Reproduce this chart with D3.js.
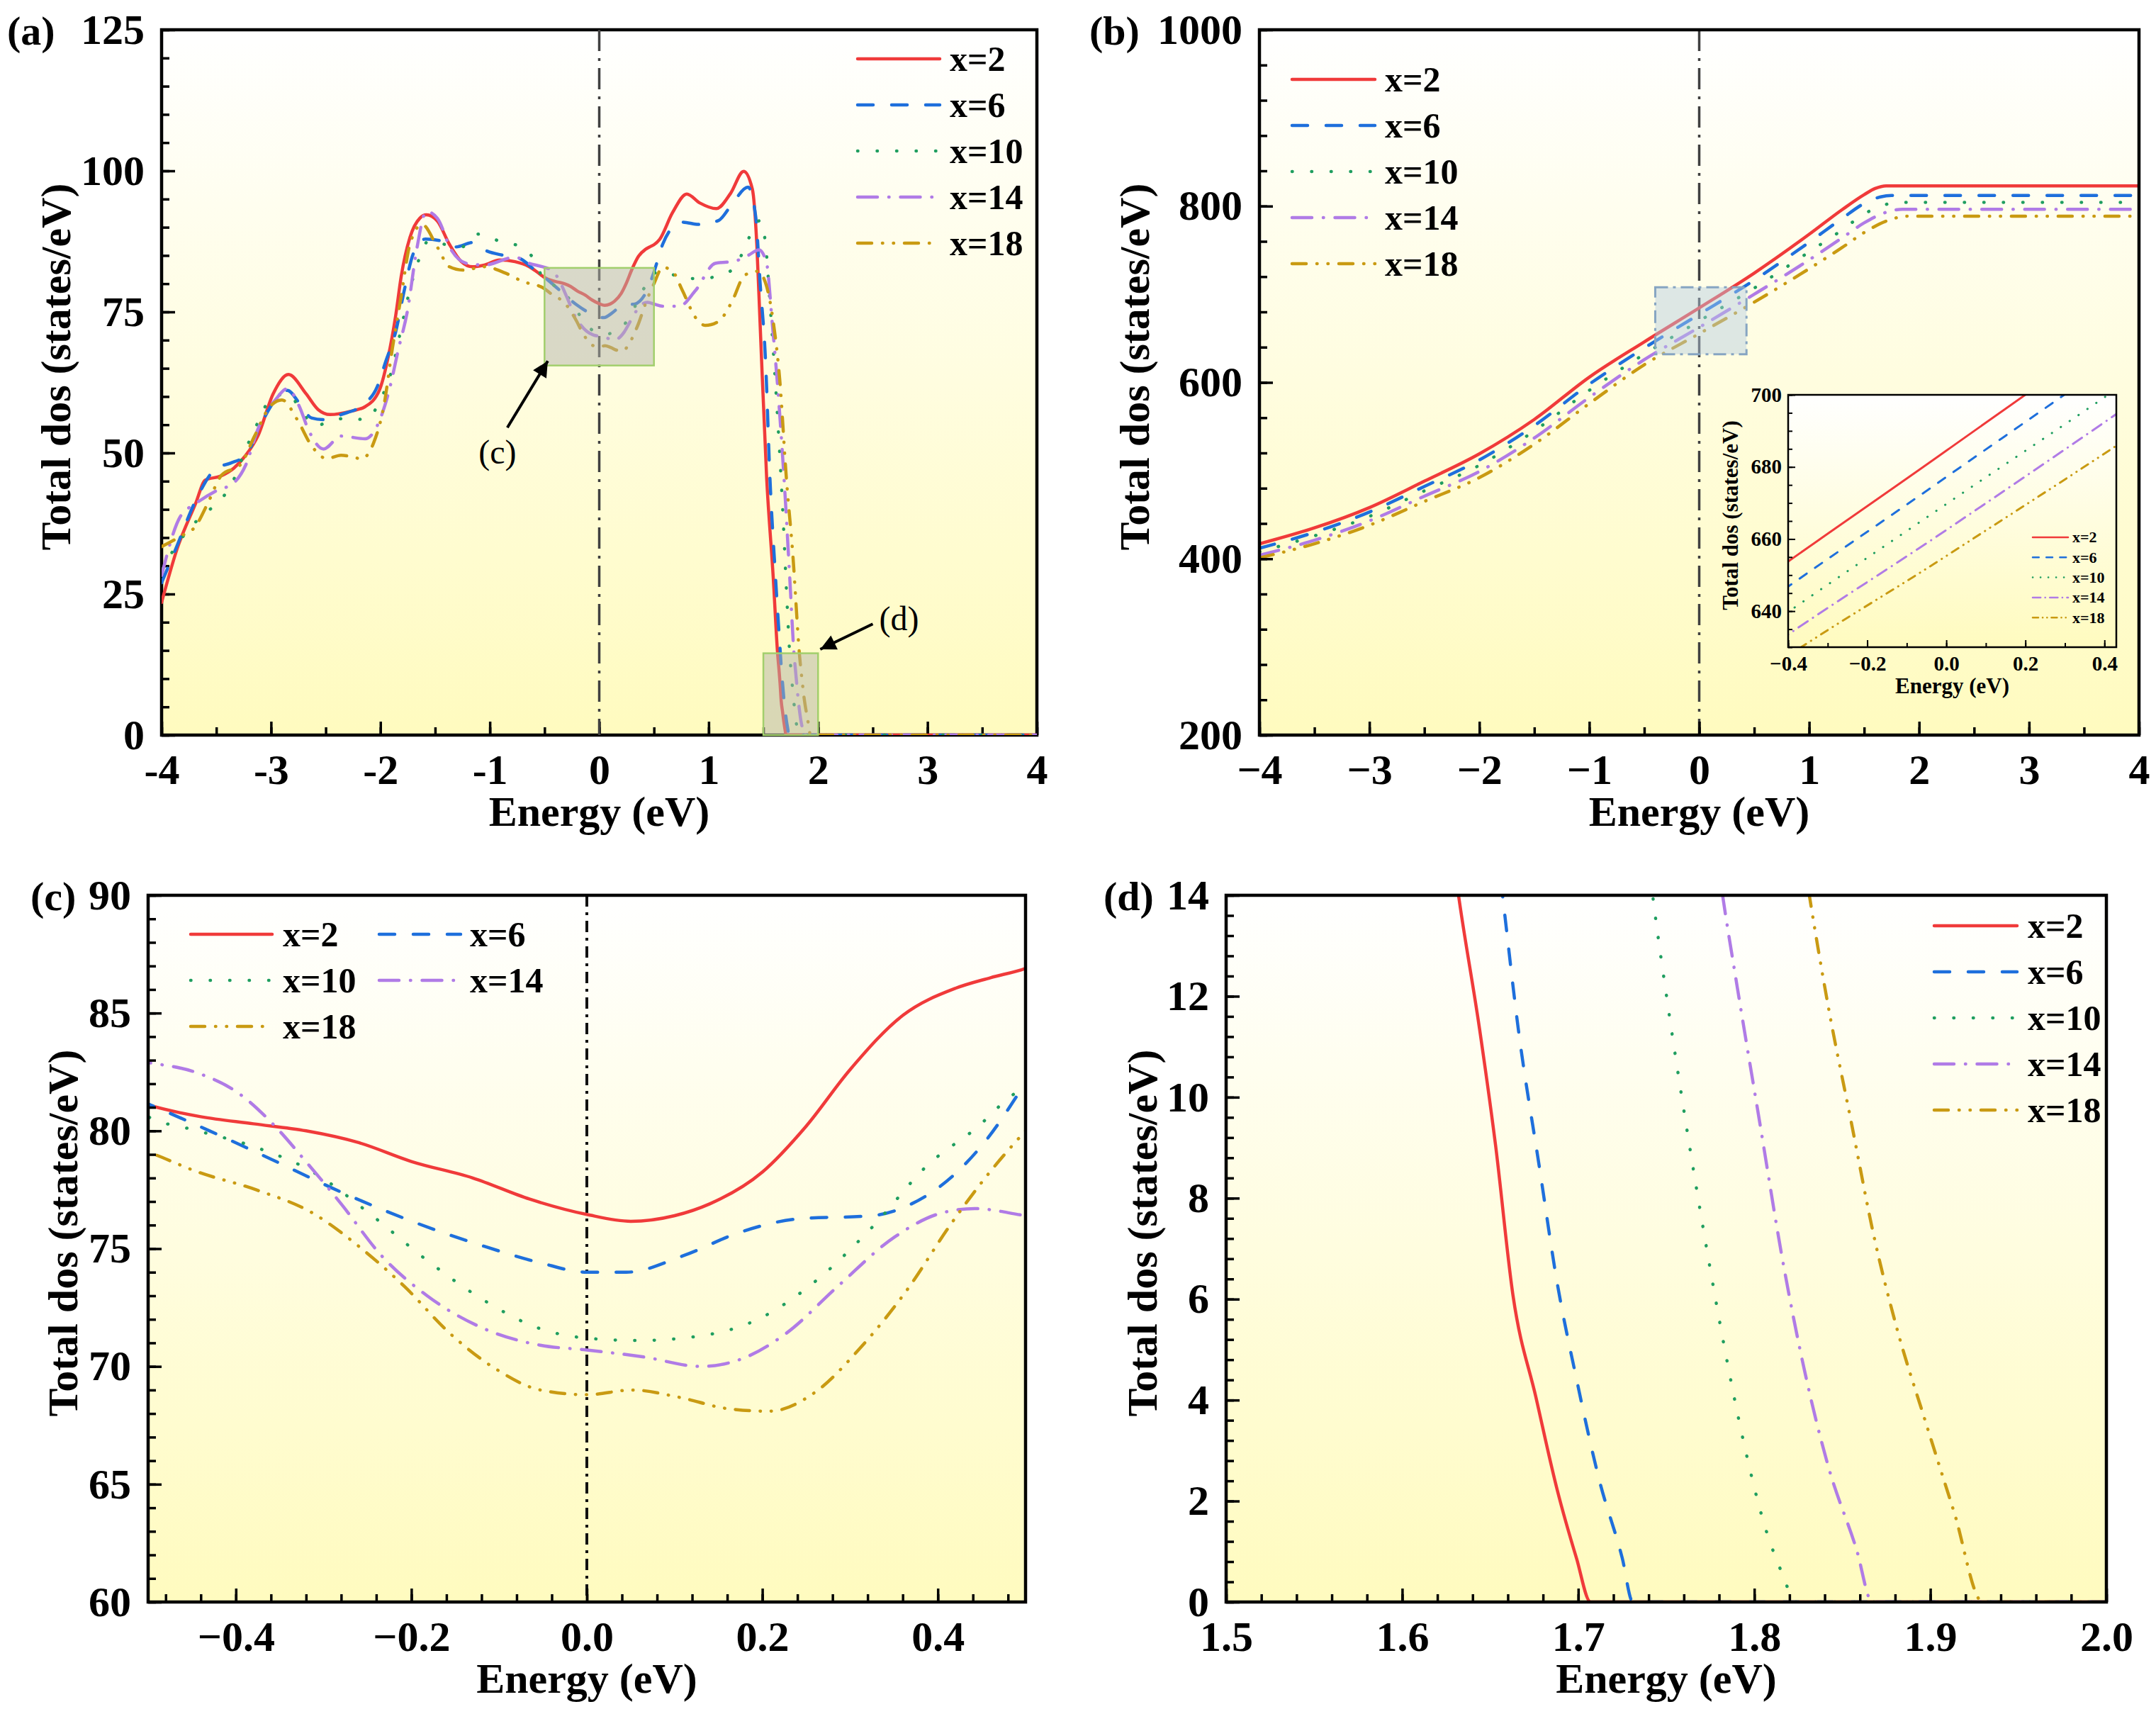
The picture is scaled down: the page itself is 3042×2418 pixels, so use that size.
<!DOCTYPE html>
<html>
<head>
<meta charset="UTF-8">
<script src="https://d3js.org/d3.v7.min.js"></script>
<title>Total dos</title>
<style>
  body{margin:0;background:#fff;}
  text{font-family:"Liberation Serif","Times New Roman",serif;}
</style>
</head>
<body>
<div id="container"></div>
<script>
// series names and styles
var seriesNames = ['x=2', 'x=6', 'x=10', 'x=14', 'x=18'];
var seriesColors = ['#f03a3a', '#1e6fdc', '#1f9e5f', '#b07be6', '#c99a12'];
var seriesDash = [null, '22,26', '0.5,27', '28,16,0.5,16', '20,15,0.5,15,0.5,15'];

// total dos (states/eV) vs energy (eV), panel (a); (c) and (d) are zooms of the same curves
var dosX2 = [[-4,23.5],[-3.86,32.9],[-3.69,41],[-3.6,45.2],[-3.46,45.9],[-3.34,47.3],[-3.23,49.6],[-3.12,53],[-2.98,60.5],[-2.84,63.9],[-2.68,60.5],[-2.57,57.7],[-2.46,56.8],[-2.27,57.4],[-2.14,58.2],[-2.01,61.1],[-1.93,66.9],[-1.86,74.4],[-1.81,81.3],[-1.73,88.2],[-1.64,91.6],[-1.58,92.2],[-1.48,91.1],[-1.37,87],[-1.26,83.9],[-1.16,83],[-1.05,83.3],[-0.91,84.2],[-0.77,83.9],[-0.64,83],[-0.57,82.1],
  [-0.5,81.1],[-0.44,80.6],[-0.38,80.3],[-0.32,80.0],[-0.26,79.5],[-0.2,78.7],[-0.13,78.0],[-0.065,77.1],[0,76.45],[0.05,76.16],[0.1,76.4],[0.14,76.9],[0.2,78.25],[0.25,80.2],[0.3,82.6],[0.36,84.9],[0.42,86.05],[0.46,86.5],[0.5,86.9],
  [0.55,87.8],[0.67,92.6],[0.8,95.9],[0.92,94.3],[1.07,93.3],[1.2,96],[1.32,99.9],[1.4,96.7],[1.44,87],[1.47,73],[1.53,45.6],[1.59,28],[1.632,14],
  [1.644,11.34],[1.653,9.06],[1.663,6.06],[1.676,4.05],[1.688,2.23],[1.699,0.87],[1.707,0],[4,0]];
var dosX6 = [[-4,27],[-3.86,33.5],[-3.69,41.5],[-3.5,47.3],[-3.37,48.2],[-3.23,49.6],[-3.1,54.8],[-2.96,59.4],[-2.85,61.1],[-2.74,58.8],[-2.63,56.2],[-2.52,55.9],[-2.36,56.8],[-2.14,58.8],[-2.03,61.7],[-1.95,66.3],[-1.86,71.5],[-1.78,79],[-1.7,85.3],[-1.59,87.9],[-1.45,87.6],[-1.32,86.5],[-1.15,87.3],[-1.05,86],[-0.87,85],[-0.72,84.4],[-0.6,82.6],
  [-0.5,81.14],[-0.43,80.0],[-0.36,78.8],[-0.28,77.4],[-0.195,76.1],[-0.117,75.1],[-0.053,74.4],[0,74.0],[0.045,74.0],[0.11,74.7],[0.175,75.7],[0.24,76.26],[0.325,76.4],[0.37,76.9],[0.416,78.05],[0.455,79.6],[0.5,82.05],
  [0.58,87],[0.68,90.2],[0.76,90.9],[0.91,90.5],[1.09,91.2],[1.21,94],[1.36,97.1],[1.43,91.9],[1.47,80.2],[1.52,66.3],[1.56,45.6],[1.61,28.3],[1.657,14],
  [1.666,11.34],[1.678,8.6],[1.688,6.33],[1.699,4.42],[1.712,2.41],[1.725,0.87],[1.731,0],[4,0]];
var dosX10 = [[-4,29.4],[-3.78,35.8],[-3.64,38.7],[-3.5,41],[-3.37,44.1],[-3.23,50.7],[-3.12,55.4],[-3.01,59.4],[-2.85,60.5],[-2.71,57.1],[-2.6,54.8],[-2.46,55.6],[-2.3,56.2],[-2.14,55.9],[-2,59.4],[-1.89,65.1],[-1.81,72.1],[-1.73,79],[-1.64,84.7],[-1.56,87.6],[-1.42,87],[-1.26,86.5],[-1.1,88.8],[-0.88,87.3],[-0.75,86.8],[-0.61,84.7],
  [-0.5,80.6],[-0.443,80.0],[-0.377,79.3],[-0.312,78.25],[-0.248,76.5],[-0.182,74.5],[-0.117,72.8],[-0.053,71.6],[0,71.2],[0.058,71.1],[0.13,71.3],[0.195,72.0],[0.26,73.6],[0.325,75.9],[0.39,78.6],[0.44,80.0],[0.5,81.8],
  [0.58,82.2],[0.73,81.2],[0.88,80.9],[1.06,81.2],[1.24,82.9],[1.36,87.8],[1.47,91.2],[1.52,87],[1.56,76.7],[1.62,59.4],[1.68,38.7],[1.715,24],[1.743,13.8],
  [1.751,11.8],[1.761,9.52],[1.774,6.79],[1.7835,4.96],[1.793,3.32],[1.806,1.5],[1.8176,0.41],[1.8225,0],[4,0]];
var dosX14 = [[-4,28.3],[-3.83,38.7],[-3.69,41],[-3.5,43.3],[-3.34,44.7],[-3.23,47.9],[-3.12,54.2],[-2.96,59.4],[-2.85,61.4],[-2.74,58.2],[-2.66,54.2],[-2.52,50.7],[-2.36,53],[-2.14,52.5],[-2.03,54.8],[-1.92,61.1],[-1.84,68],[-1.75,75.5],[-1.67,85.9],[-1.58,92.8],[-1.48,91.6],[-1.35,85.9],[-1.21,83.6],[-1.05,83.3],[-0.77,84.7],[-0.64,83.6],[-0.56,83.2],
  [-0.5,82.9],[-0.443,82.45],[-0.397,81.6],[-0.358,80.3],[-0.318,78.6],[-0.28,76.9],[-0.234,74.7],[-0.182,73.0],[-0.117,71.6],[-0.053,70.9],[0,70.7],[0.065,70.4],[0.13,70.0],[0.175,70.3],[0.227,71.4],[0.286,73.4],[0.351,75.5],[0.403,76.5],[0.442,76.7],[0.5,76.4],
  [0.58,76],[0.73,76],[0.88,78.8],[1.06,83.6],[1.24,84],[1.36,85],[1.46,86],[1.53,83.6],[1.58,73.3],[1.64,59.4],[1.7,42],[1.74,28.3],[1.782,14],
  [1.79,12.25],[1.803,9.52],[1.816,6.79],[1.829,4.51],[1.842,2.69],[1.858,1.05],[1.867,0],[4,0]];
var dosX18 = [[-4,33.4],[-3.83,35.2],[-3.69,37],[-3.58,41],[-3.45,46.1],[-3.28,47.9],[-3.15,53],[-3.01,58.2],[-2.9,59.4],[-2.76,55.9],[-2.63,51.3],[-2.49,49],[-2.36,49.6],[-2.17,49],[-2.06,51.9],[-1.97,58.2],[-1.89,68.6],[-1.81,77.8],[-1.73,87],[-1.62,90.5],[-1.48,86.5],[-1.37,83],[-1.24,82.4],[-1.05,83],[-0.86,81.9],[-0.7,80.4],
  [-0.5,79.1],[-0.443,78.25],[-0.377,77.5],[-0.312,76.5],[-0.26,75.1],[-0.208,73.4],[-0.156,71.4],[-0.104,69.9],[-0.053,69.0],[0,68.8],[0.052,69.0],[0.104,68.7],[0.162,68.2],[0.208,68.1],[0.26,68.9],[0.312,70.8],[0.364,73.2],[0.416,76.1],[0.455,78.05],[0.5,80.0],
  [0.58,82.9],[0.67,82.2],[0.76,78.8],[0.88,74],[0.97,72.6],[1.09,73.3],[1.21,76.7],[1.33,81.5],[1.45,82.2],[1.53,79.5],[1.59,73.3],[1.65,62.9],[1.71,45.6],[1.77,31.8],[1.832,13.84],
  [1.842,11.8],[1.855,9.52],[1.868,7.24],[1.881,5.42],[1.897,3.6],[1.9135,1.78],[1.9297,0],[4,0]];

// panel (b) and inset
var intX2 = [[-4,417],[-3.5,435],[-3,458],[-2.5,488],[-2,519],[-1.5,558],[-1,606],[-0.5,646],[0,684.5],[0.5,724],[1,768],[1.3,796],[1.5,813],[1.6,820],[1.7,823],[4,823]];
var intX6 = [[-4,412],[-3.5,430],[-3,453],[-2.5,482],[-2,512],[-1.5,551],[-1,598],[-0.5,639],[0,677.2],[0.5,716],[1,759],[1.3,786],[1.5,803],[1.65,810.5],[1.75,812],[4,812]];
var intX10 = [[-4,408],[-3.5,426],[-3,448],[-2.5,477],[-2,506],[-1.5,545],[-1,591],[-0.5,632],[0,669.7],[0.5,707],[1,748],[1.3,773],[1.5,791],[1.7,802],[1.8,804.3],[4,804.3]];
var intX14 = [[-4,404],[-3.5,421],[-3,443],[-2.5,471],[-2,499],[-1.5,537],[-1,583],[-0.5,625.8],[0,662.5],[0.5,700],[1,739],[1.3,764],[1.5,781],[1.7,793],[1.85,796.4],[4,796.4]];
var intX18 = [[-4,401],[-3.5,417],[-3,438],[-2.5,465],[-2,492],[-1.5,530],[-1,576],[-0.5,620],[0,655.3],[0.5,691],[1,729],[1.3,753],[1.5,770],[1.7,783],[1.9,788.6],[4,788.6]];

var dosSeries = [dosX2, dosX6, dosX10, dosX14, dosX18];
var intSeries = [intX2, intX6, intX10, intX14, intX18];

// tick labels
var ticksAx = [-4,-3,-2,-1,0,1,2,3,4];
var ticksAy = [0,25,50,75,100,125];
var ticksBy = [200,400,600,800,1000];
var ticksCx = [-0.4,-0.2,0,0.2,0.4];
var ticksCy = [60,65,70,75,80,85,90];
var ticksDx = [1.5,1.6,1.7,1.8,1.9,2.0];
var ticksDy = [0,2,4,6,8,10,12,14];
var ticksInx = [-0.4,-0.2,0,0.2,0.4];
var ticksIny = [640,660,680,700];

var svg = d3.select('#container').append('svg')
  .attr('width',3042)
  .attr('height',2418)
var defs = svg.append('defs')
var grad = defs.append('linearGradient').attr('id','bg')
  .attr('x1',0).attr('y1',0).attr('x2',0).attr('y2',1)
grad.append('stop').attr('offset','0%').attr('stop-color','#ffffff')
grad.append('stop').attr('offset','100%').attr('stop-color','#fffbbf')
defs.append('marker').attr('id','arrow')
  .attr('markerUnits','userSpaceOnUse')
  .attr('viewBox','0 0 10 10').attr('refX',10).attr('refY',5)
  .attr('markerWidth',30).attr('markerHeight',22).attr('orient','auto')
  .append('path').attr('d','M0,0 L10,5 L0,10 Z').attr('fill','#000')

var FONT = '"Liberation Serif","Times New Roman",serif';
var clipN = 0;

function minorTicks(domain, step, anchor){
  var out = [];
  var k0 = Math.ceil((domain[0]-anchor)/step - 1e-6), k1 = Math.floor((domain[1]-anchor)/step + 1e-6);
  for (var k=k0; k<=k1; k++) out.push(+(anchor + k*step).toFixed(6));
  return out;
}

// one framed plot: background, ticks inward on left/bottom, labels
function panel(p){
  var g = svg.append('g').attr('transform','translate('+p.left+','+p.top+')')
  var sx = d3.scaleLinear().domain(p.xDomain).range([0,p.w])
  var sy = d3.scaleLinear().domain(p.yDomain).range([p.h,0])
  g.append('rect').attr('width',p.w).attr('height',p.h).attr('fill','url(#bg)')

  var id = 'clip'+(clipN++)
  defs.append('clipPath').attr('id',id).append('rect')
    .attr('x',0).attr('y',0).attr('width',p.w).attr('height',p.h)
  // curves go under the frame unless p.over
  var under = g.append('g').attr('clip-path','url(#'+id+')')

  var axes = g.append('g')
  axes.append('g').attr('transform','translate(0,'+p.h+')')
    .call(d3.axisBottom(sx).tickValues(minorTicks(p.xDomain,p.xMinor,0)).tickFormat('').tickSizeInner(-p.minor).tickSizeOuter(0))
  axes.append('g')
    .call(d3.axisLeft(sy).tickValues(minorTicks(p.yDomain,p.yMinor,0)).tickFormat('').tickSizeInner(-p.minor).tickSizeOuter(0))
  axes.append('g').attr('transform','translate(0,'+p.h+')')
    .call(d3.axisBottom(sx).tickValues(p.xTicks).tickFormat(p.xFmt).tickSizeInner(-p.major).tickSizeOuter(0).tickPadding(p.xPad))
  axes.append('g')
    .call(d3.axisLeft(sy).tickValues(p.yTicks).tickFormat(p.yFmt).tickSizeInner(-p.major).tickSizeOuter(0).tickPadding(p.yPad))
  axes.selectAll('.domain').remove()
  axes.selectAll('.tick line').attr('stroke','#000').attr('stroke-width',p.tickW)
  axes.selectAll('.tick text').attr('fill','#000').attr('font-size',p.fs)
    .attr('font-weight','bold').attr('font-family',FONT)

  g.append('rect').attr('width',p.w).attr('height',p.h)
    .attr('fill','none').attr('stroke','#000').attr('stroke-width',p.frameW)

  // axis titles
  g.append('text').text('Energy (eV)')
    .attr('x',p.w/2).attr('y',p.h+p.xTitleY)
    .attr('text-anchor','middle').attr('font-size',p.tfs).attr('font-weight','bold')
  g.append('text').text('Total dos (states/eV)')
    .attr('transform','translate('+p.yTitleX+','+(p.h/2-p.yTitleShift)+') rotate(-90)')
    .attr('dy','0.35em')
    .attr('text-anchor','middle').attr('font-size',p.tfs).attr('font-weight','bold')

  var plot = p.over ? g.append('g').attr('clip-path','url(#'+id+')') : under
  return {g:g, plot:plot, sx:sx, sy:sy};
}

function drawCurves(P, list, lw, dashScale){
  var line = d3.line()
    .x(function(d){return P.sx(d[0])})
    .y(function(d){return P.sy(d[1])})
    .curve(d3.curveMonotoneX)
  list.forEach(function(data,i){
    var dash = seriesDash[i] ? seriesDash[i].split(',').map(function(v){return +v*dashScale}).join(',') : null
    P.plot.append('path')
      .attr('d',line(data))
      .attr('fill','none')
      .attr('stroke',seriesColors[i])
      .attr('stroke-width',lw)
      .attr('stroke-linecap','round')
      .attr('stroke-dasharray',dash)
  })
}

function zeroLine(P, color, dash, lw){
  P.plot.append('line')
    .attr('x1',P.sx(0)).attr('x2',P.sx(0))
    .attr('y1',P.sy.range()[1]).attr('y2',P.sy.range()[0])
    .attr('stroke',color).attr('stroke-width',lw).attr('stroke-dasharray',dash)
}

// legend rows: items = [{i, x1, x2, tx, y}]
function legend(items, fs, lw, dashScale){
  var lg = svg.append('g')
  items.forEach(function(it){
    var i = it.i
    var dash = seriesDash[i] ? seriesDash[i].split(',').map(function(v){return +v*dashScale}).join(',') : null
    lg.append('line').attr('x1',it.x1).attr('x2',it.x2).attr('y1',it.y).attr('y2',it.y)
      .attr('stroke',seriesColors[i]).attr('stroke-width',lw)
      .attr('stroke-linecap','round').attr('stroke-dasharray',dash)
    lg.append('text').text(seriesNames[i])
      .attr('x',it.tx).attr('y',it.y).attr('dy','0.34em')
      .attr('font-size',fs).attr('font-weight','bold')
  })
}

function panelLabel(t, x, y){
  svg.append('text').text(t).attr('x',x).attr('y',y)
    .attr('font-size',58).attr('font-weight','bold')
}

var common = {major:19, minor:11, tickW:3.5, frameW:4.5, fs:60, tfs:60, xPad:26, yPad:24, xTitleY:128};

// ---- panel (a)
var A = panel(Object.assign({}, common, {
  left:228, top:42, w:1235, h:995, over:true,
  xDomain:[-4,4], yDomain:[0,125], xTicks:ticksAx, yTicks:ticksAy, xMinor:0.5, yMinor:5,
  xFmt:function(d){return String(d)}, yFmt:d3.format('d'),
  yTitleX:-150, yTitleShift:22
}))
zeroLine(A,'#404040','30,10,4,10',3.5)
drawCurves(A, dosSeries, 4.5, 1)
A.g.append('rect')
  .attr('x',A.sx(-0.5)).attr('y',A.sy(82.8))
  .attr('width',A.sx(0.5)-A.sx(-0.5)).attr('height',A.sy(65.5)-A.sy(82.8))
  .attr('fill','#b4b4aa').attr('fill-opacity',0.5).attr('stroke','#a2cf6c').attr('stroke-width',2.5)
A.g.append('rect')
  .attr('x',A.sx(1.5)).attr('y',A.sy(14.5))
  .attr('width',A.sx(2.0)-A.sx(1.5)).attr('height',A.sy(0)-A.sy(14.5))
  .attr('fill','#b4b4aa').attr('fill-opacity',0.5).attr('stroke','#a2cf6c').attr('stroke-width',2.5)
A.g.append('line')
  .attr('x1',A.sx(-0.84)).attr('y1',A.sy(54.5)).attr('x2',A.sx(-0.47)).attr('y2',A.sy(66.3))
  .attr('stroke','#000').attr('stroke-width',4).attr('marker-end','url(#arrow)')
A.g.append('text').text('(c)').attr('x',A.sx(-0.93)).attr('y',A.sy(50.2)).attr('dy','0.35em')
  .attr('text-anchor','middle').attr('font-size',48)
A.g.append('line')
  .attr('x1',A.sx(2.5)).attr('y1',A.sy(19.7)).attr('x2',A.sx(2.02)).attr('y2',A.sy(15.2))
  .attr('stroke','#000').attr('stroke-width',4).attr('marker-end','url(#arrow)')
A.g.append('text').text('(d)').attr('x',A.sx(2.74)).attr('y',A.sy(20.7)).attr('dy','0.35em')
  .attr('text-anchor','middle').attr('font-size',48)
legend(seriesNames.map(function(n,i){return {i:i, x1:1210, x2:1326, tx:1340, y:83+65*i}}), 50, 4.5, 1)
panelLabel('(a)',10,63)

// ---- panel (b)
var B = panel(Object.assign({}, common, {
  left:1777, top:42, w:1241, h:995,
  xDomain:[-4,4], yDomain:[200,1000], xTicks:ticksAx, yTicks:ticksBy, xMinor:0.5, yMinor:40,
  xFmt:d3.format('d'), yFmt:d3.format('d'),
  yTitleX:-177, yTitleShift:22
}))
zeroLine(B,'#404040','30,10,4,10',3.5)
drawCurves(B, intSeries, 4.5, 1)
B.plot.append('rect')
  .attr('x',B.sx(-0.4)).attr('y',B.sy(708))
  .attr('width',B.sx(0.43)-B.sx(-0.4)).attr('height',B.sy(632)-B.sy(708))
  .attr('fill','#b3cde2').attr('fill-opacity',0.45)
  .attr('stroke','#86a5c2').attr('stroke-width',3).attr('stroke-dasharray','18,7,4,7')
legend(seriesNames.map(function(n,i){return {i:i, x1:1823, x2:1940, tx:1954, y:112+65*i}}), 50, 4.5, 1)
panelLabel('(b)',1537,63)

// inset of (b)
var In = panel({
  left:2523, top:557, w:463, h:356,
  xDomain:[-0.4,0.43], yDomain:[630,700], xTicks:ticksInx, yTicks:ticksIny, xMinor:0.1, yMinor:5,
  xFmt:d3.format('.1f'), yFmt:d3.format('d'),
  major:10, minor:6, tickW:2, frameW:2.5, fs:29, tfs:31, xPad:12, yPad:9, xTitleY:65,
  yTitleX:-82, yTitleShift:8
})
drawCurves(In, intSeries, 3, 0.55)
legend(seriesNames.map(function(n,i){return {i:i, x1:2868, x2:2918, tx:2924, y:758+28.3*i}}), 22, 2.5, 0.4)

// ---- panel (c)
var C = panel(Object.assign({}, common, {
  left:209, top:1263, w:1238, h:997,
  xDomain:[-0.5,0.5], yDomain:[60,90], xTicks:ticksCx, yTicks:ticksCy, xMinor:0.04, yMinor:1,
  xFmt:d3.format('.1f'), yFmt:d3.format('d'),
  yTitleX:-121, yTitleShift:22
}))
zeroLine(C,'#111','16,8,4,8',4)
drawCurves(C, dosSeries, 4.5, 1)
legend([
  {i:0, x1:269, x2:384, tx:399, y:1318},
  {i:1, x1:535, x2:650, tx:663, y:1318},
  {i:2, x1:269, x2:384, tx:399, y:1383},
  {i:3, x1:535, x2:650, tx:663, y:1383},
  {i:4, x1:269, x2:384, tx:399, y:1448}
], 50, 4.5, 1)
panelLabel('(c)',43,1284)

// ---- panel (d)
var D = panel(Object.assign({}, common, {
  left:1730, top:1263, w:1242, h:997,
  xDomain:[1.5,2.0], yDomain:[0,14], xTicks:ticksDx, yTicks:ticksDy, xMinor:0.02, yMinor:0.4,
  xFmt:d3.format('.1f'), yFmt:d3.format('d'),
  yTitleX:-119, yTitleShift:22
}))
drawCurves(D, dosSeries, 4.5, 1)
legend(seriesNames.map(function(n,i){return {i:i, x1:2729, x2:2846, tx:2861, y:1306+65*i}}), 50, 4.5, 1)
panelLabel('(d)',1557,1284)
</script>
</body>
</html>
